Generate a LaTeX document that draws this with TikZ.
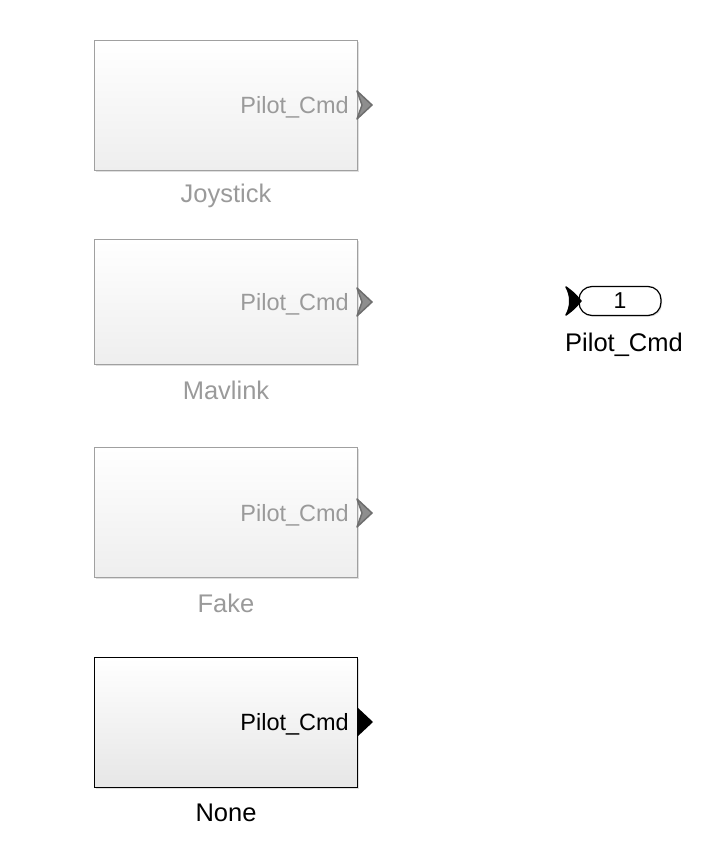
\documentclass[tikz,border=0pt]{standalone}
\usepackage{fontspec}
\setmainfont{Liberation Sans}
\usetikzlibrary{shadows}
\definecolor{dimtext}{HTML}{9A9A9A}
\definecolor{dimline}{HTML}{A0A0A0}
\definecolor{dimport}{HTML}{6E6E6E}
\definecolor{dimportfill}{HTML}{8E8E8E}
\definecolor{boxbot}{HTML}{E6E6E6}
\definecolor{boxbotdim}{HTML}{EEEEEE}
\begin{document}
\begin{tikzpicture}[x=1pt,y=-1pt,
  blk/.style={draw=dimline, line width=1.2pt, top color=white, bottom color=boxbotdim,
    minimum width=263pt, minimum height=130pt, inner sep=0pt, anchor=north west,
    drop shadow={shadow xshift=1.2pt, shadow yshift=-1.2pt, opacity=0.25}},
  blkact/.style={blk, draw=black, bottom color=boxbot},
  plab/.style={font=\fontsize{23.5}{27}\selectfont, anchor=east, inner sep=0pt},
  nlab/.style={font=\fontsize{25.5}{29}\selectfont, inner sep=0pt},
  dimchev/.style={draw=dimport, fill=dimportfill, line width=1.5pt, line join=round}
]
\useasboundingbox (0,0) rectangle (727,858);

% Joystick
\node[blk] (joy) at (94,40) {};
\node[plab, text=dimtext] (joyp) at (349,107) {Pilot\_Cmd};
\draw[dimchev] (357,91) -- (372,105) -- (357,119) -- (362,105) -- cycle;
\node[nlab, text=dimtext] (joyl) at (226,196) {Joystick};

% Mavlink
\node[blk, minimum height=125pt] (mav) at (94,239) {};
\node[plab, text=dimtext] (mavp) at (349,304) {Pilot\_Cmd};
\draw[dimchev] (357,288) -- (372,302) -- (357,316) -- (362,302) -- cycle;
\node[nlab, text=dimtext] (mavl) at (226,390) {Mavlink};

% Fake
\node[blk] (fake) at (94,447) {};
\node[plab, text=dimtext] (fakep) at (349,515) {Pilot\_Cmd};
\draw[dimchev] (357,499) -- (372,513) -- (357,527) -- (362,513) -- cycle;
\node[nlab, text=dimtext] (fakel) at (226,603) {Fake};

% None
\node[blkact] (none) at (94,657) {};
\node[plab, text=black] (nonep) at (349,724) {Pilot\_Cmd};
\fill[black] (357,707) -- (373,722) -- (357,737) -- cycle;
\node[nlab, text=black] (nonel) at (226,813) {None};

% Outport
\node[draw=black, line width=1.2pt, rounded corners=13pt, minimum width=82pt, minimum height=29pt,
  inner sep=0pt, fill=white, drop shadow={shadow xshift=1.2pt, shadow yshift=-1.2pt, opacity=0.25},
  font=\fontsize{23}{27}\selectfont] (out) at (620,301) {1};
\fill[black, draw=black, line width=1.5pt, line join=round] (566,287) .. controls (574,293) .. (581,301) .. controls (574,309) .. (566,315)
  .. controls (571,307) and (571,295) .. cycle;
\node[nlab, text=black] (outl) at (624,345) {Pilot\_Cmd};
\end{tikzpicture}
\end{document}
